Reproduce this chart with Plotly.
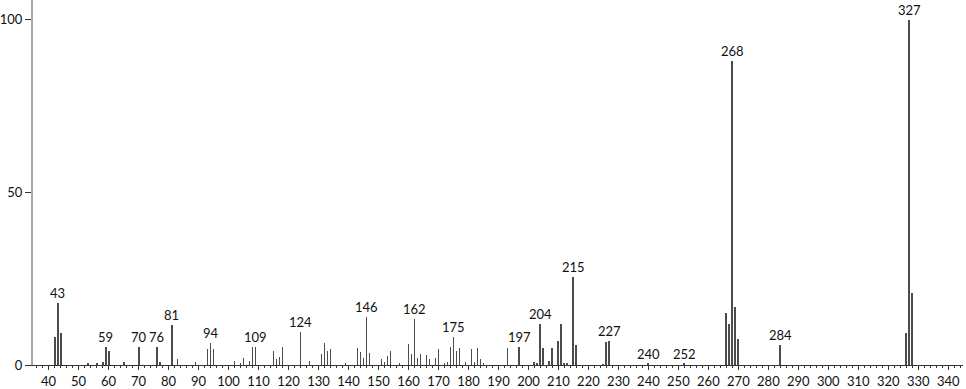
import plotly.graph_objects as go

mz = [42, 43, 44, 53, 56, 58, 59, 60, 65, 70, 76, 77, 81, 83, 89, 93, 94, 95,
      102, 104, 105, 107, 108, 109, 115, 116, 117, 118, 124, 127, 131, 132, 133, 134,
      139, 143, 144, 145, 146, 147, 151, 152, 153, 154, 157, 160, 161, 162, 163, 164,
      166, 167, 169, 170, 172, 173, 174, 175, 176, 177, 179, 181, 182, 183, 184, 185,
      193, 197, 202, 203, 204, 205, 207, 208, 210, 211, 212, 213, 215, 216, 225, 226,
      227, 240, 252, 266, 267, 268, 269, 270, 284, 326, 327, 328]
intensity = [8.2, 18.0, 9.3, 0.4, 0.5, 0.9, 5.3, 4.2, 0.8, 5.3, 5.3, 0.8, 11.6, 1.8, 1.0, 4.7, 6.4, 4.7,
             1.1, 0.4, 1.9, 1.2, 5.2, 5.3, 4.0, 1.8, 2.4, 5.3, 9.5, 1.2, 3.1, 6.3, 4.2, 4.7,
             0.3, 4.8, 3.8, 2.0, 14.0, 3.6, 1.6, 0.8, 2.6, 4.2, 0.3, 6.0, 3.2, 13.4, 2.0, 3.3,
             2.9, 1.6, 2.0, 4.7, 0.3, 1.0, 5.2, 8.1, 4.0, 5.0, 0.8, 4.6, 0.8, 4.8, 1.7, 0.3,
             5.0, 5.2, 0.8, 0.3, 12.0, 4.8, 1.2, 4.8, 7.1, 11.9, 0.7, 0.3, 25.5, 5.7, 0.2, 6.6,
             7.1, 0.3, 0.3, 15.0, 12.0, 88.2, 16.8, 7.6, 5.7, 9.2, 100.0, 20.8]
labeled_peaks = [43, 59, 70, 76, 81, 94, 109, 124, 146, 162, 175, 197, 204, 215, 227,
                 240, 252, 268, 284, 327]
x_ticks = list(range(40, 341, 10))
y_ticks = [0, 50, 100]

lookup = dict(zip(mz, intensity))
FONT = "Lato"

fig = go.Figure()
fig.add_trace(go.Bar(x=mz, y=intensity, width=0.3,
                     marker=dict(color="#4c4c4c", line=dict(width=0)),
                     hoverinfo="x+y"))

for p in labeled_peaks:
    fig.add_annotation(x=p, y=lookup.get(p, 0), text=str(p), showarrow=False,
                       yanchor="bottom", xanchor="center", yshift=0,
                       font=dict(family=FONT, size=13, color="#111"))

fig.update_layout(
    width=966, height=389,
    margin=dict(l=29, r=3, t=0, b=22),
    paper_bgcolor="white", plot_bgcolor="white",
    showlegend=False, bargap=0,
    font=dict(family=FONT, size=13, color="#111"),
)
fig.update_xaxes(range=[34.8, 344.9], tickvals=x_ticks, ticktext=[str(t) for t in x_ticks],
                 ticks="outside", ticklen=4, tickcolor="#333", tickwidth=1,
                 minor=dict(dtick=2, tick0=0, ticks="outside", ticklen=2, tickcolor="#333", tickwidth=1),
                 showline=True, linecolor="#333", linewidth=1, showgrid=False, zeroline=False,
                 tickfont=dict(family=FONT, size=13, color="#111"))
fig.update_yaxes(range=[0, 105.76], tickvals=y_ticks, ticks="outside", ticklen=6,
                 tickcolor="#333", tickwidth=1,
                 showline=True, linecolor="#a8a8a8", linewidth=2, showgrid=False, zeroline=False,
                 tickfont=dict(family=FONT, size=13, color="#111"))

fig.write_html("out.html")
